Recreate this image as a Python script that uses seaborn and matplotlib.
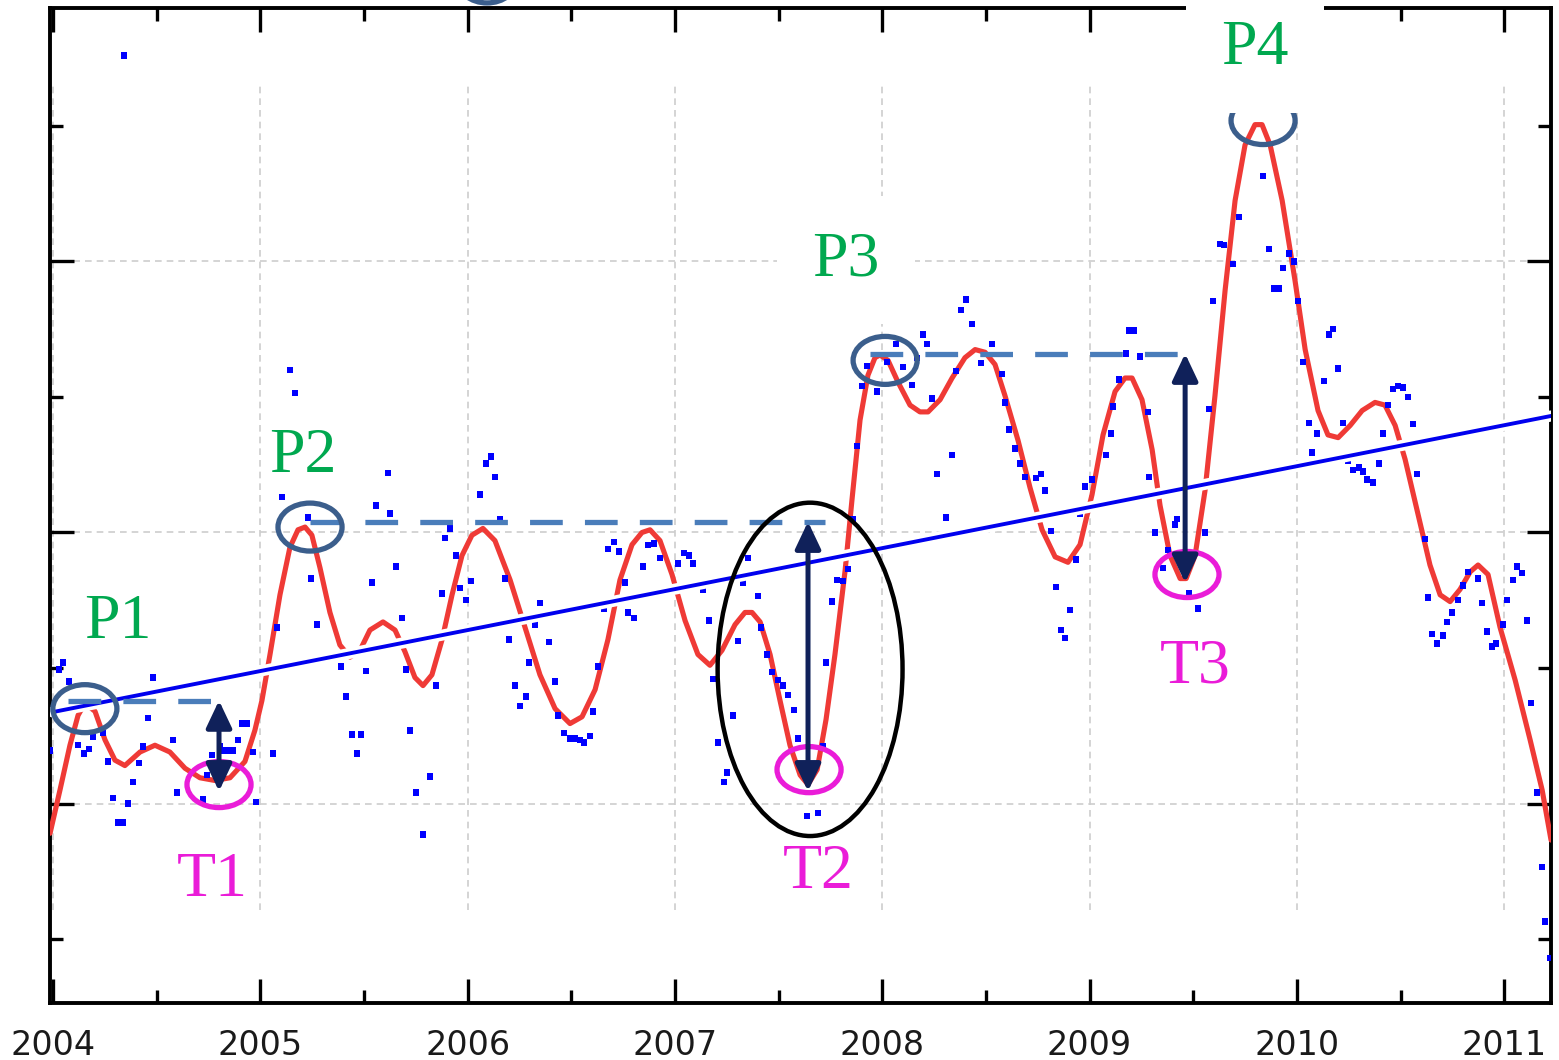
import matplotlib
matplotlib.use("Agg")
import matplotlib.pyplot as plt
import matplotlib.patheffects as pe
from matplotlib.patches import Ellipse
import seaborn as sns

# smoothed curve (red)
curve_year = [2003.986, 2004.034, 2004.082, 2004.121, 2004.154, 2004.203, 2004.251, 2004.299, 2004.347, 2004.420,
              2004.492, 2004.564, 2004.637, 2004.709, 2004.781, 2004.854, 2004.926, 2004.974, 2005.008, 2005.047,
              2005.095, 2005.143, 2005.182, 2005.216, 2005.249, 2005.288, 2005.336, 2005.384, 2005.433, 2005.481,
              2005.529, 2005.592, 2005.650, 2005.698, 2005.746, 2005.785, 2005.828, 2005.877, 2005.925, 2005.973,
              2006.021, 2006.074, 2006.132, 2006.205, 2006.277, 2006.349, 2006.422, 2006.494, 2006.552, 2006.615,
              2006.677, 2006.735, 2006.793, 2006.841, 2006.880, 2006.928, 2006.986, 2007.049, 2007.111, 2007.169,
              2007.227, 2007.290, 2007.338, 2007.372, 2007.411, 2007.459, 2007.507, 2007.555, 2007.604, 2007.642,
              2007.686, 2007.729, 2007.772, 2007.821, 2007.854, 2007.893, 2007.931, 2007.965, 2007.989, 2008.028,
              2008.076, 2008.134, 2008.182, 2008.221, 2008.279, 2008.337, 2008.399, 2008.448, 2008.496, 2008.544,
              2008.592, 2008.655, 2008.713, 2008.771, 2008.834, 2008.896, 2008.954, 2009.012, 2009.065, 2009.123,
              2009.171, 2009.205, 2009.253, 2009.302, 2009.340, 2009.388, 2009.437, 2009.466, 2009.509, 2009.557,
              2009.605, 2009.654, 2009.702, 2009.750, 2009.798, 2009.832, 2009.871, 2009.929, 2009.991, 2010.040,
              2010.102, 2010.150, 2010.199, 2010.257, 2010.315, 2010.377, 2010.425, 2010.474, 2010.522, 2010.585,
              2010.642, 2010.691, 2010.739, 2010.787, 2010.836, 2010.874, 2010.922, 2010.980, 2011.053, 2011.125,
              2011.183, 2011.226]
curve_value = [27.8, 31.0, 34.3, 36.5, 37.4, 36.8, 34.7, 33.2, 32.8, 33.8,
               34.3, 33.8, 32.6, 31.9, 31.7, 31.9, 33.1, 35.4, 37.6, 41.0,
               45.4, 48.9, 50.2, 50.4, 49.8, 47.4, 44.1, 41.7, 40.8, 41.3,
               42.8, 43.4, 42.8, 41.2, 39.3, 38.7, 39.5, 42.1, 45.4, 48.3,
               49.8, 50.3, 49.4, 46.5, 43.0, 39.5, 37.0, 35.9, 36.4, 38.4,
               42.1, 46.5, 49.1, 50.0, 50.2, 49.4, 46.9, 43.5, 41.0, 40.2,
               41.3, 43.2, 44.1, 44.1, 43.4, 41.0, 37.6, 34.3, 32.1, 31.4,
               32.5, 36.2, 41.0, 47.2, 52.4, 58.3, 61.6, 62.9, 63.1, 62.7,
               61.1, 59.4, 58.9, 58.9, 59.8, 61.4, 62.9, 63.5, 63.3, 62.4,
               60.1, 56.8, 53.3, 50.2, 48.2, 47.8, 49.1, 52.8, 57.2, 60.4,
               61.4, 61.4, 59.8, 56.1, 52.0, 48.3, 46.6, 46.6, 48.3, 53.1,
               60.1, 67.9, 74.5, 78.6, 80.1, 80.1, 78.6, 74.5, 68.6, 63.5,
               59.0, 57.2, 57.0, 57.9, 59.0, 59.6, 59.4, 57.9, 55.4, 51.3,
               47.6, 45.4, 44.9, 45.8, 47.1, 47.6, 46.9, 43.0, 39.1, 34.7,
               31.0, 27.3]

# raw observations (blue squares)
dot_year = [2003.986, 2004.029, 2004.048, 2004.077, 2004.121, 2004.150, 2004.174, 2004.193, 2004.241, 2004.265,
            2004.289, 2004.314, 2004.338, 2004.343, 2004.362, 2004.386, 2004.415, 2004.434, 2004.458, 2004.482,
            2004.579, 2004.598, 2004.724, 2004.743, 2004.767, 2004.806, 2004.825, 2004.844, 2004.868, 2004.892,
            2004.912, 2004.936, 2004.965, 2004.979, 2005.061, 2005.081, 2005.105, 2005.143, 2005.167, 2005.230,
            2005.245, 2005.274, 2005.389, 2005.413, 2005.442, 2005.466, 2005.486, 2005.510, 2005.539, 2005.558,
            2005.616, 2005.626, 2005.655, 2005.684, 2005.703, 2005.722, 2005.751, 2005.785, 2005.819, 2005.848,
            2005.877, 2005.891, 2005.915, 2005.944, 2005.963, 2005.992, 2006.016, 2006.060, 2006.089, 2006.113,
            2006.132, 2006.156, 2006.180, 2006.200, 2006.229, 2006.253, 2006.282, 2006.296, 2006.325, 2006.349,
            2006.393, 2006.422, 2006.436, 2006.465, 2006.494, 2006.518, 2006.542, 2006.562, 2006.590, 2006.605,
            2006.629, 2006.658, 2006.677, 2006.706, 2006.730, 2006.759, 2006.774, 2006.803, 2006.846, 2006.870,
            2006.899, 2006.928, 2007.015, 2007.044, 2007.068, 2007.087, 2007.136, 2007.165, 2007.184, 2007.208,
            2007.237, 2007.251, 2007.280, 2007.304, 2007.329, 2007.353, 2007.401, 2007.415, 2007.444, 2007.468,
            2007.497, 2007.522, 2007.546, 2007.575, 2007.594, 2007.637, 2007.690, 2007.714, 2007.729, 2007.758,
            2007.782, 2007.811, 2007.835, 2007.859, 2007.878, 2007.903, 2007.927, 2007.975, 2008.023, 2008.067,
            2008.100, 2008.144, 2008.168, 2008.197, 2008.216, 2008.240, 2008.264, 2008.308, 2008.337, 2008.356,
            2008.380, 2008.404, 2008.433, 2008.477, 2008.530, 2008.578, 2008.592, 2008.612, 2008.641, 2008.665,
            2008.689, 2008.742, 2008.766, 2008.785, 2008.814, 2008.838, 2008.863, 2008.882, 2008.906, 2008.935,
            2008.954, 2008.978, 2009.012, 2009.080, 2009.104, 2009.113, 2009.142, 2009.176, 2009.191, 2009.215,
            2009.244, 2009.282, 2009.287, 2009.316, 2009.355, 2009.379, 2009.412, 2009.422, 2009.480, 2009.523,
            2009.557, 2009.576, 2009.596, 2009.630, 2009.649, 2009.692, 2009.721, 2009.822, 2009.837, 2009.866,
            2009.890, 2009.914, 2009.933, 2009.962, 2009.986, 2010.006, 2010.030, 2010.059, 2010.073, 2010.098,
            2010.131, 2010.155, 2010.175, 2010.199, 2010.223, 2010.247, 2010.271, 2010.300, 2010.319, 2010.339,
            2010.368, 2010.397, 2010.416, 2010.440, 2010.464, 2010.488, 2010.512, 2010.536, 2010.561, 2010.580,
            2010.618, 2010.633, 2010.652, 2010.676, 2010.705, 2010.725, 2010.749, 2010.778, 2010.802, 2010.826,
            2010.874, 2010.893, 2010.918, 2010.942, 2010.961, 2010.995, 2011.014, 2011.043, 2011.062, 2011.086,
            2011.110, 2011.130, 2011.159, 2011.183, 2011.197, 2011.221]
dot_value = [33.9, 39.9, 40.4, 39.0, 34.3, 33.7, 34.0, 34.9, 35.2, 33.1,
             30.4, 28.6, 28.6, 85.2, 30.0, 31.6, 33.0, 34.2, 36.3, 39.3,
             34.7, 30.8, 30.3, 32.1, 33.6, 34.2, 33.9, 33.9, 33.9, 34.7,
             35.9, 35.9, 33.8, 30.1, 33.7, 43.0, 52.6, 62.0, 60.3, 51.1,
             46.6, 43.2, 40.1, 37.9, 35.1, 33.7, 35.1, 39.8, 46.3, 52.0,
             54.4, 51.4, 47.5, 43.7, 39.9, 35.4, 30.8, 27.7, 32.0, 38.7,
             45.5, 49.6, 50.3, 48.3, 45.9, 45.0, 46.4, 52.8, 55.1, 55.6,
             54.1, 51.0, 46.6, 42.1, 38.7, 37.2, 37.9, 40.4, 43.2, 44.8,
             41.9, 39.0, 36.5, 35.2, 34.8, 34.8, 34.7, 34.5, 35.0, 36.8,
             40.1, 44.4, 48.8, 49.3, 48.6, 46.3, 44.1, 43.7, 47.5, 49.1,
             49.2, 48.1, 47.7, 48.5, 48.3, 47.7, 45.8, 43.5, 39.2, 34.5,
             31.6, 32.3, 36.5, 42.0, 46.3, 48.1, 45.3, 43.0, 41.0, 39.7,
             39.1, 38.7, 38.0, 36.9, 34.8, 29.1, 29.3, 34.2, 40.4, 44.9,
             46.5, 46.4, 47.3, 51.0, 56.4, 60.8, 62.3, 60.4, 62.6, 63.9,
             62.2, 60.9, 62.9, 64.6, 63.9, 59.9, 54.3, 51.1, 55.7, 61.9,
             66.4, 67.2, 65.4, 62.5, 63.9, 61.7, 59.6, 57.6, 56.2, 55.1,
             54.1, 54.0, 54.3, 53.1, 50.1, 46.0, 42.8, 42.2, 44.3, 48.0,
             51.4, 53.4, 53.9, 55.7, 57.3, 59.3, 61.3, 63.2, 64.9, 64.9,
             63.0, 58.9, 54.1, 50.0, 47.4, 48.7, 50.6, 51.0, 45.5, 44.4,
             50.0, 59.1, 67.1, 71.3, 71.2, 69.8, 73.3, 82.1, 76.3, 70.9,
             68.0, 68.0, 69.5, 70.6, 70.0, 67.1, 62.6, 58.1, 55.9, 57.3,
             61.2, 64.6, 65.0, 62.1, 58.1, 55.3, 54.6, 54.8, 54.5, 53.9,
             53.7, 55.1, 57.3, 59.4, 60.6, 60.8, 60.7, 60.0, 58.0, 54.3,
             49.5, 45.2, 42.5, 41.8, 42.4, 43.4, 44.1, 45.0, 46.1, 47.1,
             46.6, 44.8, 42.7, 41.6, 41.8, 43.2, 45.0, 46.5, 47.5, 47.0,
             43.5, 37.4, 30.8, 25.3, 21.3, 18.6]

# linear trend
trend_year = [2004.0, 2011.226]
trend_value = [36.75, 58.6]

# peaks and troughs
peak_labels = ["P1", "P2", "P3", "P4"]
peak_year = [2004.154, 2005.240, 2008.014, 2009.837]
peak_value = [37.0, 50.4, 62.7, 80.4]
trough_labels = ["T1", "T2", "T3"]
trough_year = [2004.801, 2007.647, 2009.470]
trough_value = [31.4, 32.5, 46.9]

# previous-peak levels and drawdown arrows
level_start = [2004.072, 2005.240, 2007.941]
level_end = [2004.795, 2007.724, 2009.461]
level_value = [37.6, 50.8, 63.2]
drop_year = [2004.801, 2007.642, 2009.461]
drop_bottom = [30.9, 30.9, 46.3]

years = [2004, 2005, 2006, 2007, 2008, 2009, 2010, 2011]
half_years = [2004.5, 2005.5, 2006.5, 2007.5, 2008.5, 2009.5, 2010.5]

RED = "#ef3a36"
BLUE_DOT = "#0000ff"
STEEL = "#4a7dba"
SLATE = "#3b5e8c"
NAVY = "#10215a"
MAGENTA = "#ea1cd8"
GREEN = "#00a84f"
GRID = "#cdcdcd"

sns.set_theme(style="white")
plt.rcParams["font.family"] = ["DejaVu Sans"]

fig = plt.figure(figsize=(15.59, 10.60), dpi=100)
ax = fig.add_axes([0.0321, 0.0538, 0.9628, 0.9387])

sns.lineplot(x=curve_year, y=curve_value, sort=False, estimator=None, color=RED,
             lw=3.7, solid_joinstyle="round", solid_capstyle="round", ax=ax, zorder=3)
sns.scatterplot(x=dot_year, y=dot_value, marker="s", s=21, color=BLUE_DOT,
                edgecolor="none", linewidth=0, ax=ax, zorder=4)
sns.lineplot(x=trend_year, y=trend_value, color="#0000ee", lw=2.8, ax=ax, zorder=5,
             path_effects=[pe.Stroke(linewidth=8, foreground="white"), pe.Normal()])

for x0, x1, v in zip(level_start, level_end, level_value):
    ax.plot([x0, x1], [v, v], color=STEEL, lw=3.8, ls=(0, (6.2, 4.2)),
            dash_capstyle="butt", zorder=6)

for x, top, bot in zip(drop_year, level_value, drop_bottom):
    ax.annotate("", xy=(x, bot), xytext=(x, top),
                arrowprops=dict(arrowstyle="<|-|>,head_length=0.55,head_width=0.26",
                                color=NAVY, lw=3.6, shrinkA=0, shrinkB=0,
                                mutation_scale=30),
                zorder=8)

for x, v in zip(peak_year, peak_value):
    ax.add_patch(Ellipse((x, v), 0.309, 3.54, fill=False, ec=SLATE, lw=3.8, zorder=7))
for x, v in zip(trough_year, trough_value):
    ax.add_patch(Ellipse((x, v), 0.309, 3.4, fill=False, ec=MAGENTA, lw=3.8, zorder=7))

# big ellipse around the deepest drawdown
ax.add_patch(Ellipse((2007.652, 39.9), 0.892, 24.6, fill=False, ec="black", lw=3.2, zorder=7))
# sliver of a circle cut off above the frame
ax.add_patch(Ellipse((2006.094, 90.85), 0.29, 3.54, fill=False, ec=SLATE, lw=3.8,
                     clip_on=False, zorder=7))

# labels
label_pos = {"P1": (2004.314, 42.2), "P2": (2005.206, 54.5), "P3": (2007.825, 69.0),
             "P4": (2009.798, 84.6), "T1": (2004.767, 23.2), "T2": (2007.690, 23.8),
             "T3": (2009.509, 38.9)}
for lab in peak_labels + trough_labels:
    x, y = label_pos[lab]
    kw = {}
    if lab in ("P3", "P4"):
        kw["bbox"] = dict(boxstyle="square,pad=0.55", fc="white", ec="none")
    ax.text(x, y, lab, color=GREEN if lab.startswith("P") else MAGENTA,
            fontsize=46, family="Liberation Serif", ha="center", va="baseline",
            zorder=9, clip_on=False, **kw)

# axes styling
ax.set_xlim(2003.986, 2011.226)
ax.set_ylim(15.28, 88.71)
ax.set_xticks(years)
ax.set_xticklabels([str(y) for y in years])
ax.set_xticks(half_years, minor=True)
ax.set_yticks([30, 50, 70])
ax.set_yticks([20, 40, 60, 80], minor=True)
ax.tick_params(axis="y", which="both", labelleft=False)
ax.tick_params(which="major", direction="in", length=17, width=2.4, color="black",
               top=True, right=True, bottom=True, left=True)
ax.tick_params(which="minor", direction="in", length=9.5, width=2.4, color="black",
               top=True, right=True, bottom=True, left=True)
ax.tick_params(axis="x", labelsize=24, labelcolor="#1a1a1a", pad=19)
for sp in ax.spines.values():
    sp.set_color("black")
    sp.set_linewidth(2.8)

ax.set_axisbelow(True)
ax.grid(axis="y", which="major", color=GRID, lw=1.2, ls=(0, (4, 3)))
ax.vlines(years, 0.0935, 0.9226, transform=ax.get_xaxis_transform(),
          colors=GRID, lw=1.2, linestyles=(0, (4, 3)), zorder=0.5)
ax.set_xlabel("")
ax.set_ylabel("")

fig.savefig("out.png", dpi=100)
